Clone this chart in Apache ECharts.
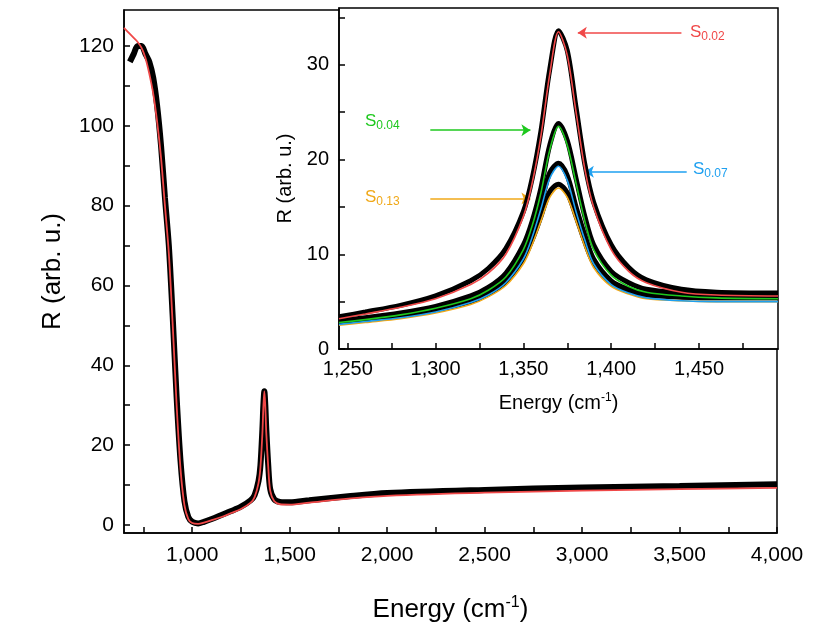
<!DOCTYPE html>
<html><head><meta charset="utf-8">
<script src="https://cdn.jsdelivr.net/npm/echarts@6/dist/echarts.min.js"></script>
<style>html,body{margin:0;padding:0;background:#fff}#c{width:830px;height:635px}</style>
</head><body><div id="c"></div>
<script>
// Main spectrum
const mainE = [650,680,700,720,740,760,780,800,820,840,860,880,900,920,940,960,980,1000,1030,1060,1100,1150,1200,1250,1300,1320,1340,1350,1360,1365,1370,1375,1380,1390,1400,1420,1450,1500,1600,1800,2000,2500,3000,3500,4000];
const mainData = [null,116,118,120,120,118,116,112,105,95,82,70,52,32,16,6,2,0.8,0.4,0.8,1.5,2.5,3.5,4.6,6.2,7.5,11,15,24,30,33.5,30,24,15,9,6.5,5.8,5.7,6.2,7.2,8.0,8.8,9.4,9.8,10.2];
const mainFit  = [124.5,123,122,121,119.5,117,113,108,101,92,80,68,50,30,14,5,1.5,0.5,0.3,0.6,1.2,2,3,4,5.6,7,10.5,14.5,23,29.5,33.5,29.5,23,14.5,8.6,6,5.2,5.1,5.6,6.6,7.3,8.1,8.6,9.0,9.3];
const mainXTicks = [1000,1500,2000,2500,3000,3500,4000];
const mainYTicks = [0,20,40,60,80,100,120];
// Inset spectra
const insetE = [1245,1260,1280,1300,1320,1330,1340,1350,1355,1360,1365,1370,1375,1380,1385,1390,1400,1410,1420,1440,1460,1495];
const s002 = [3.2,3.7,4.4,5.3,6.8,8,10,14,17.5,22.5,29,33.5,31,25,19,15,10.5,8.2,7,6,5.7,5.6];
const s004 = [2.8,3.1,3.6,4.3,5.3,6.2,7.6,10.5,13,16.5,21,23.5,21.5,17.5,13.5,10.5,7.8,6.6,6,5.6,5.4,5.3];
const s007 = [2.6,2.9,3.3,3.9,4.9,5.7,7,9.5,11.8,14.8,18,19.3,17.8,14.5,11.5,9,6.8,5.9,5.4,5.1,5.0,5.0];
const s013 = [2.5,2.8,3.2,3.8,4.7,5.5,6.7,9,11,13.5,16,17,16,13.5,10.8,8.6,6.6,5.8,5.3,5.1,5.0,5.0];
const d002 = [3.4,3.9,4.6,5.6,7.2,8.5,10.6,14.5,18,23,29.5,33.6,31.5,25.5,19.5,15.5,11,8.6,7.3,6.3,6.0,5.9];
const d004 = [3.0,3.3,3.8,4.5,5.6,6.5,8,11,13.5,17,21.5,23.8,22,18,14,11,8.2,7,6.3,5.9,5.7,5.6];
const d007 = [2.9,3.2,3.6,4.2,5.2,6,7.4,10,12.3,15.3,18.6,19.6,18.3,15,12,9.5,7.2,6.3,5.8,5.5,5.4,5.4];
const d013 = [2.8,3.1,3.5,4.1,5.0,5.8,7.1,9.5,11.5,14,16.6,17.4,16.5,14,11.3,9.1,7,6.2,5.7,5.5,5.4,5.4];
const insetXTicks = [1250,1300,1350,1400,1450];
const insetYTicks = [0,10,20,30];
const zip = (x,y)=>x.map((v,i)=>[v,y[i]]);
const red='#f04848', green='#1ec81e', blue='#1ea0f0', orange='#f0a818';
const font='Liberation Sans, Arial, sans-serif';
function halfSteps(arr,lo,hi){const s=arr[1]-arr[0];const out=[];for(let v=arr[0]-s/2;v<=hi+1e-9;v+=s/2){if(v>=lo)out.push(v);}return out;}
function ax(o){const {ticks,lo,hi,fs}=o;return {type:'value',min:lo,max:hi,gridIndex:o.g,z:o.z||0,
  axisLine:{show:true,onZero:false,lineStyle:{color:'#000',width:1.5}},
  axisTick:{show:true,inside:true,length:6,customValues:halfSteps(ticks,lo,hi),lineStyle:{color:'#000',width:1.5}},
  splitLine:{show:false},
  axisLabel:{color:'#000',fontFamily:font,fontSize:fs,margin:o.m||8,customValues:ticks,showMinLabel:true,showMaxLabel:true},
  name:o.name,nameLocation:'middle',nameGap:o.gap,nameTextStyle:{fontSize:o.nfs,fontFamily:font,color:'#000',
    rich:{sup:{fontSize:Math.round(o.nfs*0.6),verticalAlign:'top',padding:[0,0,Math.round(o.nfs*0.55),0],fontFamily:font,color:'#000'}}}};}
const arrowLine=(color,a,b)=>({silent:true,symbol:['none','arrow'],symbolSize:9,lineStyle:{color,width:1.5,type:'solid'},label:{show:false},data:[[{coord:a},{coord:b}]]});
const chart=echarts.init(document.getElementById('c'));
chart.setOption({
  animation:false,
  grid:[{left:124,right:53,top:10,bottom:102,show:true,borderColor:'#000',borderWidth:1.5},
        {left:339,right:52,top:8,bottom:286,show:true,borderColor:'#000',borderWidth:1.5,backgroundColor:'#fff',z:5}],
  xAxis:[ax({g:0,ticks:mainXTicks,lo:650,hi:4000,fs:21,m:12,name:'Energy (cm{sup|-1})',gap:62,nfs:26}),
         ax({g:1,z:6,ticks:insetXTicks,lo:1245,hi:1495,fs:20,m:10,name:'Energy (cm{sup|-1})',gap:43,nfs:20})],
  yAxis:[ax({g:0,ticks:mainYTicks,lo:-2,hi:129,fs:21,m:10,name:'R (arb. u.)',gap:58,nfs:26}),
         ax({g:1,z:6,ticks:insetYTicks,lo:0,hi:36,fs:20,m:10,name:'R (arb. u.)',gap:40,nfs:20})],
  series:[
    {type:'line',xAxisIndex:0,yAxisIndex:0,data:zip(mainE,mainData),showSymbol:false,smooth:0.3,lineStyle:{color:'#000',width:6},z:2},
    {type:'line',xAxisIndex:0,yAxisIndex:0,data:zip(mainE,mainFit),showSymbol:false,smooth:0.3,lineStyle:{color:red,width:1.8},z:3},
    ...[d002,d004,d007,d013].map(d=>({type:'line',xAxisIndex:1,yAxisIndex:1,data:zip(insetE,d),showSymbol:false,smooth:0.3,lineStyle:{color:'#000',width:5},z:7})),
    {type:'line',xAxisIndex:1,yAxisIndex:1,data:zip(insetE,s013),showSymbol:false,smooth:0.3,lineStyle:{color:orange,width:1.6},z:8,markLine:arrowLine(orange,[1297,15.9],[1354,15.9])},
    {type:'line',xAxisIndex:1,yAxisIndex:1,data:zip(insetE,s007),showSymbol:false,smooth:0.3,lineStyle:{color:blue,width:1.6},z:8,markLine:arrowLine(blue,[1443,18.7],[1385,18.7])},
    {type:'line',xAxisIndex:1,yAxisIndex:1,data:zip(insetE,s004),showSymbol:false,smooth:0.3,lineStyle:{color:green,width:1.6},z:8,markLine:arrowLine(green,[1297,23.1],[1354,23.1])},
    {type:'line',xAxisIndex:1,yAxisIndex:1,data:zip(insetE,s002),showSymbol:false,smooth:0.3,lineStyle:{color:red,width:1.6},z:8,markLine:arrowLine(red,[1440,33.4],[1381,33.4])}
  ],
  graphic:[
    ['S','0.02',red,690,24],['S','0.04',green,365,113],['S','0.07',blue,693,161],['S','0.13',orange,365,189]
  ].map(([a,b,c,x,y])=>({type:'text',left:x,top:y,z:20,style:{text:'{m|'+a+'}{s|'+b+'}',rich:{m:{fontSize:17,fill:c,fontFamily:font},s:{fontSize:12,fill:c,fontFamily:font,padding:[8,0,0,0]}}}}))
});
</script></body></html>
